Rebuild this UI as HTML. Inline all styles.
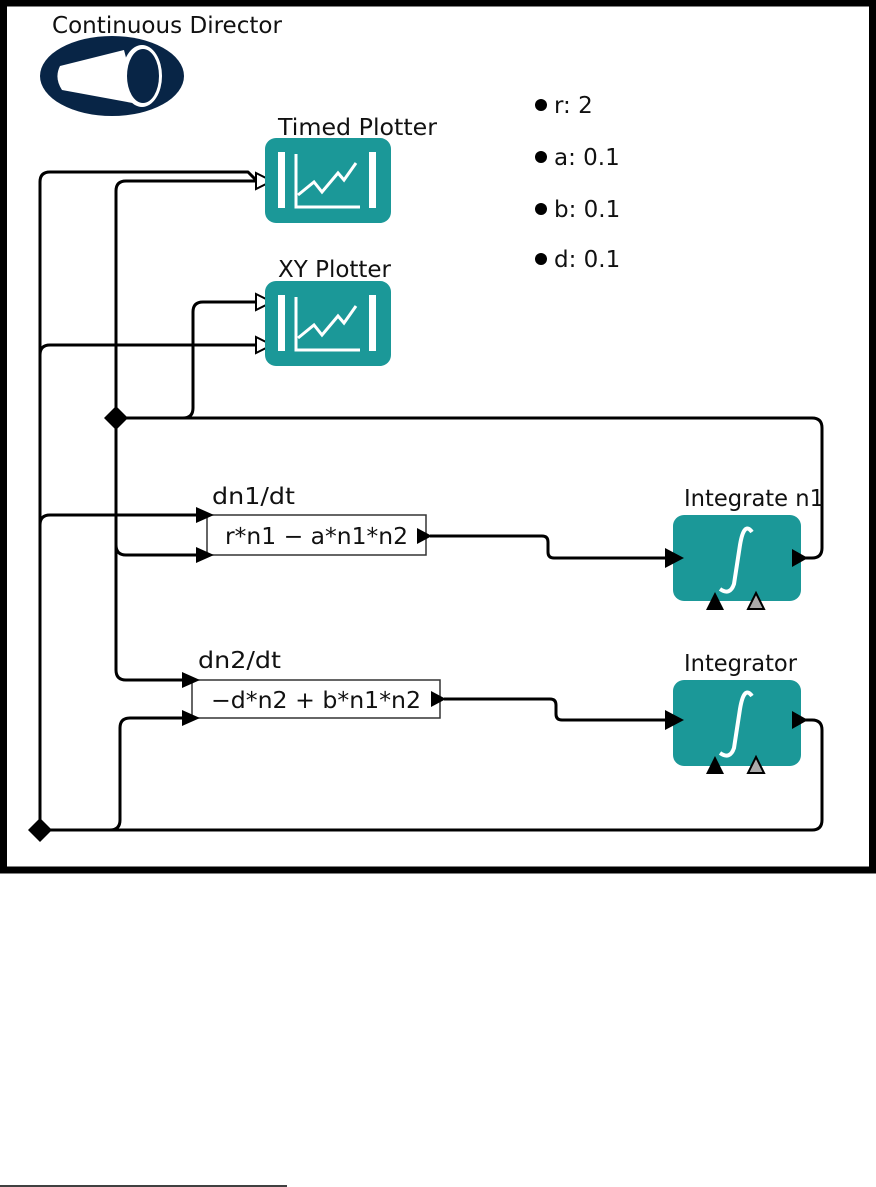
<!DOCTYPE html>
<html><head><meta charset="utf-8"><style>
html,body{margin:0;padding:0;background:#fff;}
svg{display:block;}
text{font-family:"DejaVu Sans","Liberation Sans",sans-serif;fill:#111;}
</style></head><body>
<svg width="876" height="1187" viewBox="0 0 876 1187" xmlns="http://www.w3.org/2000/svg">
<rect x="3.5" y="3" width="869" height="867" fill="#fff" stroke="#000" stroke-width="7"/>
<line x1="0" y1="1186" x2="287" y2="1186" stroke="#000" stroke-width="1.5"/>

<!-- Director -->
<text x="52" y="33" style="font-size:23px" textLength="230" lengthAdjust="spacingAndGlyphs">Continuous Director</text>
<ellipse cx="112" cy="76" rx="72" ry="40" fill="#082546"/>
<path d="M60 66 L124 50 L138 104 L62 90 Q54 78 60 66 Z" fill="#fff"/>
<ellipse cx="142" cy="76" rx="20" ry="31" fill="#fff"/>
<ellipse cx="143" cy="76" rx="16" ry="27" fill="#082546"/>

<!-- Parameters -->
<g style="font-size:23px">
<circle cx="541" cy="105" r="6" fill="#000"/><text x="554" y="113">r: 2</text>
<circle cx="541" cy="157" r="6" fill="#000"/><text x="554" y="165">a: 0.1</text>
<circle cx="541" cy="209" r="6" fill="#000"/><text x="554" y="217">b: 0.1</text>
<circle cx="541" cy="259" r="6" fill="#000"/><text x="554" y="267">d: 0.1</text>
</g>

<!-- Wires -->
<g fill="none" stroke="#000" stroke-width="3" stroke-linejoin="round">
<path d="M40 830 L40 182 Q40 172 50 172 L248 172 L257 181"/>
<path d="M116 418 L116 191 Q116 181 126 181 L258 181"/>
<path d="M40 355 Q40 345 50 345 L258 345"/>
<path d="M116 418 L183 418 Q193 418 193 408 L193 312 Q193 302 203 302 L258 302"/>
<path d="M116 418 L812 418 Q822 418 822 428 L822 548 Q822 558 812 558 L800 558"/>
<path d="M40 525 Q40 515 50 515 L198 515"/>
<path d="M116 418 L116 670 Q116 680 126 680 L184 680"/>
<path d="M116 545 Q116 555 126 555 L198 555"/>
<path d="M40 830 L110 830 Q120 830 120 820 L120 728 Q120 718 130 718 L184 718"/>
<path d="M40 830 L812 830 Q822 830 822 820 L822 730 Q822 720 812 720 L800 720"/>
<path d="M430 536 L542 536 Q548 536 548 542 L548 552 Q548 558 554 558 L666 558"/>
<path d="M444 699 L550 699 Q556 699 556 705 L556 714 Q556 720 562 720 L666 720"/>
</g>
<polygon points="116,406 128,418 116,430 104,418" fill="#000"/>
<polygon points="40,818 52,830 40,842 28,830" fill="#000"/>

<!-- open arrows -->
<g fill="#fff" stroke="#000" stroke-width="2">
<polygon points="256,173 272,181 256,189"/>
<polygon points="256,294 272,302 256,310"/>
<polygon points="256,337 272,345 256,353"/>
</g>
<!-- Plotters -->
<g>
<rect x="265" y="138" width="126" height="85" rx="11" fill="#1b9898"/>
<rect x="278" y="152" width="7" height="56" fill="#fff"/>
<rect x="369" y="152" width="7" height="56" fill="#fff"/>
<path d="M296 154 L296 207 L360 207 M298 195 L314 182 L322 192 L338 173 L344 180 L356 163" fill="none" stroke="#fff" stroke-width="3"/>
<text x="278" y="135" style="font-size:23px" textLength="159" lengthAdjust="spacingAndGlyphs">Timed Plotter</text>
<rect x="265" y="281" width="126" height="85" rx="11" fill="#1b9898"/>
<rect x="278" y="295" width="7" height="56" fill="#fff"/>
<rect x="369" y="295" width="7" height="56" fill="#fff"/>
<path d="M296 297 L296 350 L360 350 M298 338 L314 325 L322 335 L338 316 L344 323 L356 306" fill="none" stroke="#fff" stroke-width="3"/>
<text x="278" y="277" style="font-size:23px" textLength="113" lengthAdjust="spacingAndGlyphs">XY Plotter</text>
</g>

<!-- Expressions -->
<rect x="207" y="515" width="219" height="40" fill="#fff" stroke="#333" stroke-width="1.5"/>
<text x="225" y="544" style="font-size:23px" textLength="183" lengthAdjust="spacingAndGlyphs">r*n1 − a*n1*n2</text>
<text x="212" y="504" style="font-size:23px" textLength="83" lengthAdjust="spacingAndGlyphs">dn1/dt</text>
<polygon points="196,507 214,515 196,523" fill="#000"/>
<polygon points="196,547 214,555 196,563" fill="#000"/>
<polygon points="417,528 432,536 417,544" fill="#000"/>

<rect x="192" y="680" width="248" height="38" fill="#fff" stroke="#333" stroke-width="1.5"/>
<text x="211" y="708" style="font-size:23px" textLength="210" lengthAdjust="spacingAndGlyphs">−d*n2 + b*n1*n2</text>
<text x="198" y="668" style="font-size:23px" textLength="83" lengthAdjust="spacingAndGlyphs">dn2/dt</text>
<polygon points="182,672 200,680 182,688" fill="#000"/>
<polygon points="182,710 200,718 182,726" fill="#000"/>
<polygon points="431,691 446,699 431,707" fill="#000"/>

<!-- Integrators -->
<g>
<rect x="673" y="515" width="128" height="86" rx="11" fill="#1b9898"/>
<text x="684" y="506" style="font-size:23px" textLength="140" lengthAdjust="spacingAndGlyphs">Integrate n1</text>
<path d="M752 532 Q744 521 740 545 L734 584 Q730 596 720 589" fill="none" stroke="#fff" stroke-width="4"/>
<polygon points="665,548 684,558 665,568" fill="#000"/>
<polygon points="792,549 808,558 792,567" fill="#000"/>
<polygon points="715,592 724,610 706,610" fill="#000"/>
<polygon points="756,593 764,609 748,609" fill="#aaa" stroke="#000" stroke-width="2"/>

<rect x="673" y="680" width="128" height="86" rx="11" fill="#1b9898"/>
<text x="684" y="671" style="font-size:23px" textLength="113" lengthAdjust="spacingAndGlyphs">Integrator</text>
<path d="M752 696 Q744 685 740 709 L734 748 Q730 760 720 753" fill="none" stroke="#fff" stroke-width="4"/>
<polygon points="665,710 684,720 665,730" fill="#000"/>
<polygon points="792,711 808,720 792,729" fill="#000"/>
<polygon points="715,756 724,774 706,774" fill="#000"/>
<polygon points="756,757 764,773 748,773" fill="#aaa" stroke="#000" stroke-width="2"/>
</g>
</svg>
</body></html>
